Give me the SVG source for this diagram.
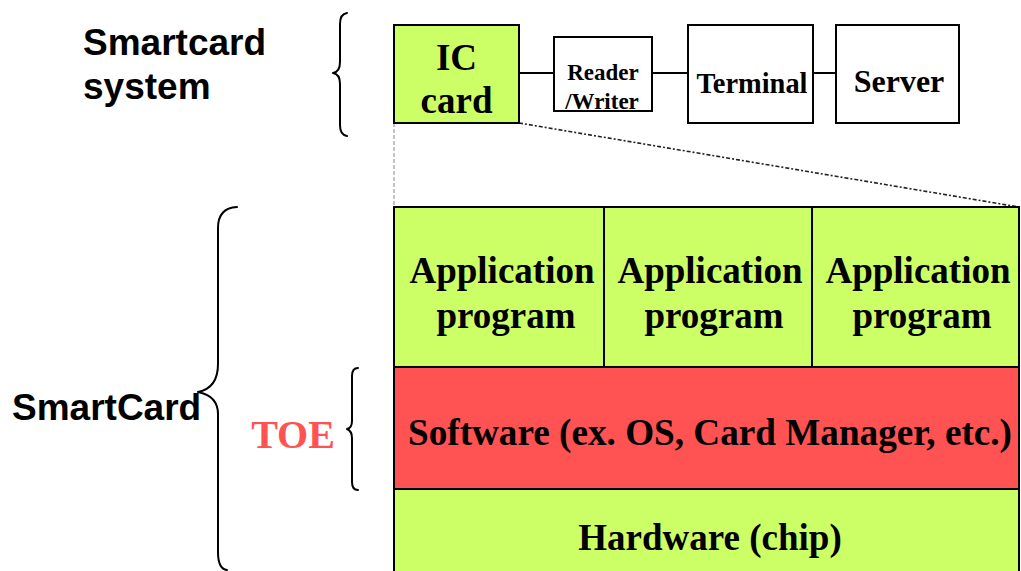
<svg xmlns="http://www.w3.org/2000/svg" width="1021" height="571" viewBox="0 0 1021 571">
  <style>
    .box { stroke: #000; stroke-width: 2; }
    .green { fill: #CCFF66; }
    .red { fill: #FF5252; }
    .white { fill: #FFFFFF; }
    .serif { font-family: "Liberation Serif", "Times New Roman", serif; font-weight: bold; fill: #000; text-anchor: middle; }
    .sans { font-family: "Liberation Sans", Arial, sans-serif; font-weight: bold; fill: #000; }
    .brace { fill: none; stroke: #000; stroke-width: 2; stroke-linecap: round; stroke-linejoin: round; }
    .link { stroke: #000; stroke-width: 2; }
  </style>
  <rect width="1021" height="571" fill="#FFFFFF"/>

  <!-- labels and braces -->
  <g id="label-system">
    <text class="sans" x="83" y="55" font-size="37">Smartcard</text>
    <text class="sans" x="83" y="99" font-size="37">system</text>
    <path class="brace" d="M347,13 Q340,14 340,24 L340,62 Q340,72 333,73 Q340,74 340,84 L340,125 Q340,135 347,136"/>
  </g>
  <g id="label-smartcard">
    <text class="sans" x="12" y="420" font-size="37">SmartCard</text>
    <path class="brace" d="M237,207 Q218,208 218,228 L218,364 Q218,388 198,392 Q218,396 218,414 L218,552 Q218,569 227,570"/>
  </g>
  <g id="label-toe">
    <text class="serif" x="293" y="448" font-size="40" style="fill:#FF5252">TOE</text>
    <path class="brace" d="M358,368 Q352,368 352,376 L352,421 Q352,428 347,429 Q352,431 352,438 L352,482 Q352,490 358,490"/>
  </g>

  <!-- connectors -->
  <g id="connectors">
    <line class="link" x1="519" y1="73" x2="554" y2="73"/>
    <line class="link" x1="652" y1="73" x2="688" y2="73"/>
    <line class="link" x1="813" y1="73" x2="836" y2="73"/>
    <line x1="394" y1="123" x2="394" y2="207" stroke="#888" stroke-width="1" stroke-dasharray="4 2"/>
    <line x1="519" y1="123" x2="1019" y2="207" stroke="#222" stroke-width="1.6" stroke-dasharray="4 2 2 2"/>
  </g>

  <!-- system chain -->
  <g id="ic-card">
    <rect class="box green" x="394" y="25" width="125" height="98"/>
    <text class="serif" x="456.5" y="70" font-size="37">IC</text>
    <text class="serif" x="456.5" y="113" font-size="37">card</text>
  </g>
  <g id="reader-writer">
    <rect class="box white" x="554" y="37" width="98" height="74"/>
    <text class="serif" x="603" y="80" font-size="23">Reader</text>
    <text class="serif" x="602" y="109" font-size="23">/Writer</text>
    <line class="link" x1="554" y1="111" x2="652" y2="111"/>
  </g>
  <g id="terminal">
    <rect class="box white" x="688" y="25" width="125" height="98"/>
    <text class="serif" x="752" y="93" font-size="29" textLength="111" lengthAdjust="spacingAndGlyphs">Terminal</text>
  </g>
  <g id="server">
    <rect class="box white" x="836" y="25" width="123" height="98"/>
    <text class="serif" x="899" y="92" font-size="32">Server</text>
  </g>

  <!-- card layers -->
  <g id="app-1">
    <rect class="box green" x="394" y="207" width="210" height="160"/>
    <text class="serif" x="502" y="283" font-size="37">Application</text>
    <text class="serif" x="506" y="328" font-size="37">program</text>
  </g>
  <g id="app-2">
    <rect class="box green" x="604" y="207" width="208" height="160"/>
    <text class="serif" x="710" y="283" font-size="37">Application</text>
    <text class="serif" x="714" y="328" font-size="37">program</text>
  </g>
  <g id="app-3">
    <rect class="box green" x="812" y="207" width="207" height="160"/>
    <text class="serif" x="918" y="283" font-size="37">Application</text>
    <text class="serif" x="922" y="328" font-size="37">program</text>
  </g>
  <g id="software">
    <rect class="box red" x="394" y="367" width="625" height="122"/>
    <text class="serif" x="710" y="445" font-size="38" textLength="604" lengthAdjust="spacingAndGlyphs">Software (ex. OS, Card Manager, etc.)</text>
  </g>
  <g id="hardware">
    <rect class="box green" x="394" y="489" width="625" height="90"/>
    <text class="serif" x="710" y="550" font-size="37">Hardware (chip)</text>
  </g>
</svg>
